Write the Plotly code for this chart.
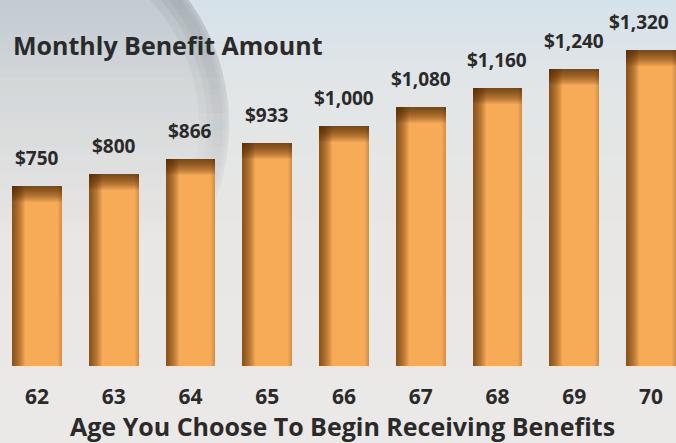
import plotly.graph_objects as go
import math

# ---- data ----
ages = ["62", "63", "64", "65", "66", "67", "68", "69", "70"]
benefits = [750, 800, 866, 933, 1000, 1080, 1160, 1240, 1320]
bar_labels = ["$750", "$800", "$866", "$933", "$1,000", "$1,080", "$1,160", "$1,240", "$1,320"]
chart_title = "Monthly Benefit Amount"
x_title = "Age You Choose To Begin Receiving Benefits"

# ---- geometry / style ----
W, H = 676, 443
MB = 77                      # bottom margin (px)
PLOT_H = H - MB              # plot area height in px
Y_MAX = 1528                 # y range top
X_RANGE = [-0.482, 8.326]
BAR_W = 0.651
PX_PER_X = W / (X_RANGE[1] - X_RANGE[0])
PX_PER_Y = PLOT_H / Y_MAX
ORANGE = "#F8AB57"
TEXT = "#2b2a2a"
FONT = "Open Sans"
LABEL_SIZE = 19

idx = list(range(len(ages)))

fig = go.Figure()

# main bars
fig.add_trace(go.Bar(x=idx, y=benefits, width=BAR_W, marker=dict(color=ORANGE, line=dict(width=0)),
                     hoverinfo="skip", showlegend=False))

# top inner shadow (stacked translucent bands)
n_top = 16
for k in range(n_top, 0, -1):
    d = k / PX_PER_Y
    fig.add_trace(go.Bar(x=idx, y=[d] * len(idx), base=[v - d for v in benefits], width=BAR_W,
                         marker=dict(color="rgba(75,40,5,0.075)", line=dict(width=0)),
                         hoverinfo="skip", showlegend=False))

# left inner shadow
n_left = 13
for k in range(n_left, 0, -1):
    w = k / PX_PER_X
    fig.add_trace(go.Bar(x=idx, y=benefits, width=w, offset=-BAR_W / 2,
                         marker=dict(color="rgba(75,40,5,0.075)", line=dict(width=0)),
                         hoverinfo="skip", showlegend=False))

# right inner shadow
n_right = 4
for k in range(n_right, 0, -1):
    w = k / PX_PER_X
    fig.add_trace(go.Bar(x=idx, y=benefits, width=w, offset=BAR_W / 2 - w,
                         marker=dict(color="rgba(75,40,5,0.05)", line=dict(width=0)),
                         hoverinfo="skip", showlegend=False))

# ---- background (decoration) ----
def px(xp):
    return xp / W

def py(yp):
    return (PLOT_H - yp) / PLOT_H

def lerp(c1, c2, t):
    return tuple(c1[i] + (c2[i] - c1[i]) * t for i in range(3))

shapes = []
stops = [(0, (214, 226, 234)), (90, (226, 230, 232)), (220, (232, 231, 229)), (443, (235, 234, 232))]
n = 60
for s in range(n):
    y0 = H * s / n
    y1 = H * (s + 1) / n + 0.5
    ym = (y0 + y1) / 2
    for a in range(len(stops) - 1):
        if stops[a][0] <= ym <= stops[a + 1][0]:
            t = (ym - stops[a][0]) / (stops[a + 1][0] - stops[a][0])
            c = lerp(stops[a][1], stops[a + 1][1], t)
            break
    shapes.append(dict(type="rect", xref="paper", yref="paper", x0=0, x1=1, y0=py(y1), y1=py(y0),
                       fillcolor="rgb(%d,%d,%d)" % c, line=dict(width=0), layer="below"))

# clock watermark: disc + rim, fading downward
CX, CY, R = 15, 125, 214
def disc_strip(y0, y1, r):
    pts = []
    steps = 6
    for j in range(steps + 1):
        yy = y0 + (y1 - y0) * j / steps
        dy = yy - CY
        xr = CX + math.sqrt(max(r * r - dy * dy, 0))
        pts.append((xr, yy))
    path = "M %f,%f " % (px(-5), py(y0))
    for (xx, yy) in pts:
        path += "L %f,%f " % (px(xx), py(yy))
    path += "L %f,%f Z" % (px(-5), py(y1))
    return path

def ring_strip(y0, y1, r_out, r_in):
    outer, inner = [], []
    steps = 6
    for j in range(steps + 1):
        yy = y0 + (y1 - y0) * j / steps
        dy = yy - CY
        outer.append((CX + math.sqrt(max(r_out ** 2 - dy * dy, 0)), yy))
        inner.append((CX + math.sqrt(max(r_in ** 2 - dy * dy, 0)), yy))
    path = "M %f,%f " % (px(outer[0][0]), py(outer[0][1]))
    for (xx, yy) in outer[1:]:
        path += "L %f,%f " % (px(xx), py(yy))
    for (xx, yy) in reversed(inner):
        path += "L %f,%f " % (px(xx), py(yy))
    return path + "Z"

ns = 30
for s in range(ns):
    y0 = 260 * s / ns
    y1 = 260 * (s + 1) / ns
    fade = max(0.0, 1 - (y0 / 240)) ** 1.2
    shapes.append(dict(type="path", xref="paper", yref="paper", path=disc_strip(y0, y1, R),
                       fillcolor="rgba(150,152,155,%.3f)" % (0.30 * fade), line=dict(width=0), layer="below"))
    for (ro, ri, al) in [(R, R - 30, 0.12), (R - 3, R - 22, 0.12), (R - 6, R - 16, 0.10)]:
        shapes.append(dict(type="path", xref="paper", yref="paper", path=ring_strip(y0, y1, ro, ri),
                           fillcolor="rgba(120,124,128,%.3f)" % (al * fade), line=dict(width=0), layer="below"))

# ---- annotations ----
annotations = [
    dict(text=f"<b>{chart_title}</b>", xref="paper", yref="paper", x=px(11), y=py(45),
         xanchor="left", yanchor="middle", showarrow=False,
         font=dict(family=FONT, size=25, color=TEXT)),
    dict(text=f"<b>{x_title}</b>", xref="paper", yref="paper", x=px(342), y=py(426),
         xanchor="center", yanchor="middle", showarrow=False, borderpad=0,
         font=dict(family=FONT, size=25, color=TEXT)),
]
for i, v, lab in zip(idx, benefits, bar_labels):
    # keep labels inside the page: estimate width and nudge left if needed
    cx = (i - X_RANGE[0]) * PX_PER_X
    half = len(lab) * 0.31 * LABEL_SIZE
    xs = min(0, (W - 2) - (cx + half))
    annotations.append(dict(text=f"<b>{lab}</b>", x=i, y=v, xref="x", yref="y", yshift=28, xshift=xs,
                            xanchor="center", yanchor="middle", showarrow=False, borderpad=0,
                            font=dict(family=FONT, size=LABEL_SIZE, color=TEXT)))

fig.update_layout(
    width=W, height=H,
    margin=dict(l=0, r=0, t=0, b=MB, pad=0),
    paper_bgcolor="#ebeae8", plot_bgcolor="rgba(0,0,0,0)",
    barmode="overlay", bargap=0,
    shapes=shapes, annotations=annotations,
    showlegend=False,
    xaxis=dict(range=X_RANGE, tickvals=idx, ticktext=[f"<b>{a}</b>" for a in ages],
               showgrid=False, zeroline=False, showline=False, ticks="",
               tickfont=dict(family=FONT, size=21, color=TEXT), ticklabelstandoff=16,
               fixedrange=True),
    yaxis=dict(range=[0, Y_MAX], visible=False, showgrid=False, zeroline=False, fixedrange=True),
)

fig.write_html("out.html")
